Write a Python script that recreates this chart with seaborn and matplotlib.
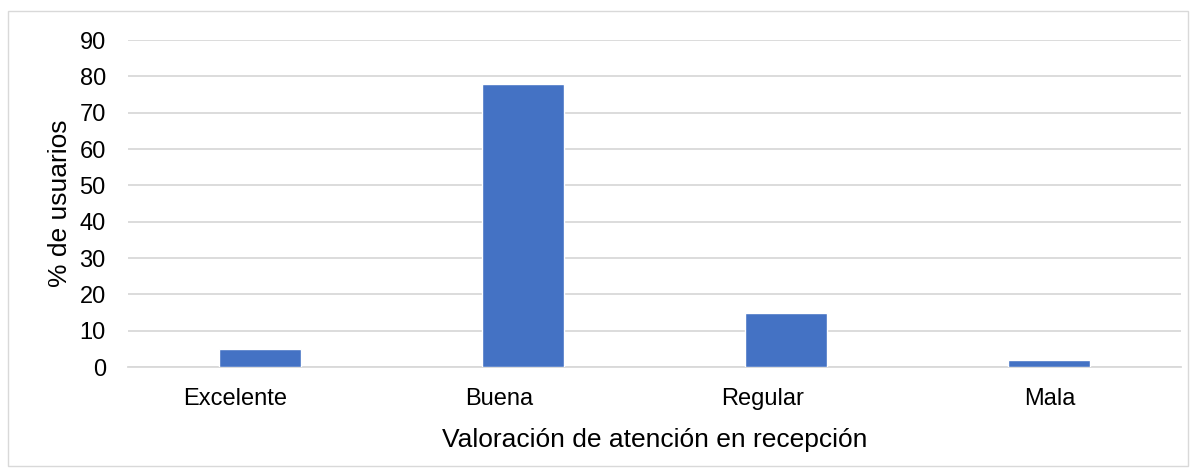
import pandas as pd
import matplotlib.pyplot as plt
import matplotlib.transforms as mtransforms
import seaborn as sns
from matplotlib.patches import Rectangle

# data
categorias = ["Excelente", "Buena", "Regular", "Mala"]
porcentajes = [5, 78, 15, 2]
yticks = [0, 10, 20, 30, 40, 50, 60, 70, 80, 90]

df = pd.DataFrame({"valoracion": categorias, "pct": porcentajes})

sns.set_theme(style="white")
plt.rcParams["font.family"] = ["Liberation Sans", "DejaVu Sans"]

fig = plt.figure(figsize=(11.95, 4.74), dpi=100)
ax = fig.add_axes([0.1071, 0.2257, 0.8812, 0.6899])

sns.barplot(data=df, x="valoracion", y="pct", color="#4472C4", width=0.312,
            saturation=1, ax=ax, zorder=3)

ax.set_ylim(0, 90)
ax.set_yticks(yticks)
ax.set_xlim(-0.5, len(categorias) - 0.5)
ax.yaxis.grid(True, color="#d9d9d9", linewidth=1.3, zorder=0)
ax.set_axisbelow(True)
for s in ["top", "right", "left"]:
    ax.spines[s].set_visible(False)
ax.spines["bottom"].set_color("#d9d9d9")
ax.spines["bottom"].set_linewidth(1.3)
ax.tick_params(axis="both", length=0, labelsize=17, colors="black")
ax.tick_params(axis="x", pad=15)
ax.tick_params(axis="y", pad=16)

# in the original the first three category labels sit a bit left of their bars
shift = mtransforms.ScaledTranslation(-0.24, 0, fig.dpi_scale_trans)
for lbl in ax.get_xticklabels()[:3]:
    lbl.set_transform(lbl.get_transform() + shift)

ax.set_xlabel("Valoración de atención en recepción", fontsize=19, color="black", labelpad=13)
ax.set_ylabel("% de usuarios", fontsize=19, color="black", labelpad=5)

# light outer frame
fig.patches.append(Rectangle((8 / 1195, 8 / 474), 1180 / 1195, 455 / 474,
                             transform=fig.transFigure, fill=False,
                             edgecolor="#d9d9d9", linewidth=1))

fig.savefig("out.png", dpi=100)
